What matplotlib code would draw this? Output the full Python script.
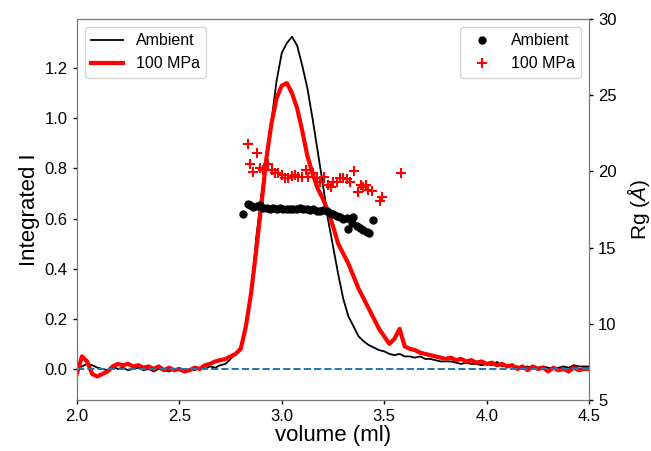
import numpy as np
import matplotlib.pyplot as plt

plt.rcParams['font.family'] = ['Liberation Sans', 'DejaVu Sans']
plt.rcParams['mathtext.fontset'] = 'custom'
plt.rcParams['mathtext.it'] = 'Liberation Sans:italic'
plt.rcParams['mathtext.rm'] = 'Liberation Sans'

# elution volume grid (ml)
vol = np.linspace(2.0, 4.5, 101)

# integrated intensity, ambient pressure
int_ambient = [
    0.00, 0.01, 0.02, 0.015, 0.005, 0.00, -0.005, 0.01, 0.00, 0.005,
    -0.005, 0.00, 0.005, -0.005, 0.00, -0.01, 0.00, -0.005, -0.01, 0.00,
    -0.005, -0.01, 0.00, -0.005, 0.005, 0.00, 0.01, 0.005, 0.015, 0.02,
    0.04, 0.06, 0.09, 0.17, 0.30, 0.52, 0.69, 0.84, 0.99, 1.15,
    1.26, 1.30, 1.325, 1.29, 1.21, 1.12, 1.00, 0.87, 0.74, 0.60,
    0.49, 0.38, 0.28, 0.21, 0.17, 0.13, 0.11, 0.095, 0.085, 0.075,
    0.07, 0.06, 0.055, 0.06, 0.05, 0.05, 0.045, 0.05, 0.04, 0.04,
    0.035, 0.03, 0.03, 0.03, 0.025, 0.02, 0.025, 0.02, 0.02, 0.015,
    0.02, 0.015, 0.028, 0.01, 0.015, 0.01, 0.01, 0.005, 0.01, 0.005,
    0.005, 0.01, 0.005, 0.00, 0.005, 0.01, 0.005, 0.015, 0.01, 0.01,
    0.01,
]

# integrated intensity, 100 MPa
int_100 = [
    -0.02, 0.05, 0.03, -0.02, -0.03, -0.02, -0.01, 0.01, 0.02, 0.015,
    0.02, 0.01, 0.015, 0.005, 0.01, 0.00, 0.01, -0.005, 0.005, -0.005,
    0.00, -0.01, -0.005, 0.005, 0.00, 0.015, 0.02, 0.03, 0.035, 0.04,
    0.05, 0.06, 0.08, 0.17, 0.30, 0.47, 0.65, 0.84, 0.98, 1.08,
    1.13, 1.14, 1.10, 1.04, 0.95, 0.85, 0.78, 0.72, 0.68, 0.63,
    0.57, 0.50, 0.46, 0.42, 0.37, 0.32, 0.28, 0.24, 0.20, 0.16,
    0.13, 0.10, 0.12, 0.16, 0.09, 0.08, 0.075, 0.065, 0.06, 0.055,
    0.05, 0.045, 0.04, 0.045, 0.035, 0.04, 0.03, 0.035, 0.025, 0.03,
    0.02, 0.025, 0.015, 0.02, 0.01, 0.015, 0.00, 0.01, -0.005, 0.01,
    0.00, 0.005, -0.01, 0.005, -0.005, 0.00, -0.01, 0.005, -0.005, 0.00,
    0.00,
]

# radius of gyration, ambient
rg_vol_ambient = [
    2.812, 2.833, 2.845, 2.861, 2.877, 2.894, 2.910, 2.926, 2.942, 2.959,
    2.975, 2.991, 3.007, 3.024, 3.040, 3.056, 3.072, 3.089, 3.105, 3.121,
    3.138, 3.154, 3.170, 3.187, 3.203, 3.219, 3.235, 3.251, 3.268, 3.284,
    3.300, 3.317, 3.325, 3.341, 3.350, 3.366, 3.382, 3.398, 3.415, 3.428,
    3.443,
]
rg_ambient = [
    17.19, 17.86, 17.80, 17.64, 17.73, 17.80, 17.58, 17.58, 17.51, 17.58,
    17.55, 17.60, 17.50, 17.55, 17.55, 17.50, 17.55, 17.58, 17.50, 17.50,
    17.46, 17.50, 17.42, 17.42, 17.46, 17.42, 17.24, 17.19, 17.10, 17.03,
    16.86, 16.92, 16.22, 16.64, 17.00, 16.42, 16.27, 16.16, 16.05, 15.99,
    16.81,
]

# radius of gyration, 100 MPa
rg_vol_100 = [
    2.833, 2.877, 2.845, 2.861, 2.894, 2.910, 2.934, 2.950, 2.967, 2.983,
    3.000, 3.016, 3.032, 3.048, 3.065, 3.081, 3.097, 3.118, 3.130, 3.154,
    3.170, 3.187, 3.206, 3.227, 3.240, 3.251, 3.268, 3.284, 3.300, 3.317,
    3.333, 3.354, 3.370, 3.385, 3.398, 3.410, 3.423, 3.440, 3.480, 3.490,
    3.580,
]
rg_100 = [
    21.80, 21.23, 20.49, 19.98, 20.20, 20.09, 20.46, 20.09, 19.91, 19.87,
    19.76, 19.54, 19.54, 19.70, 19.76, 19.61, 19.66, 20.09, 19.66, 19.87,
    19.54, 19.32, 19.66, 19.10, 19.00, 19.32, 19.32, 19.54, 19.54, 19.48,
    19.32, 20.03, 18.67, 19.10, 19.00, 19.10, 18.78, 18.73, 18.08, 18.30,
    19.91,
]

fig = plt.figure(figsize=(6.51, 4.51), dpi=100)
ax = fig.add_axes([0.118, 0.113, 0.787, 0.845])

ax.plot(vol, int_ambient, color='black', lw=1.3, label='Ambient')
ax.plot(vol, int_100, color='red', lw=3, label='100 MPa')
ax.axhline(0, color='#1f77b4', ls='--', lw=1.4)
ax.set_xlim(2.0, 4.5)
ax.set_ylim(-0.124, 1.396)
ax.set_xticks([2.0, 2.5, 3.0, 3.5, 4.0, 4.5])
ax.set_yticks([0.0, 0.2, 0.4, 0.6, 0.8, 1.0, 1.2])
ax.set_xlabel('volume (ml)', fontsize=16, labelpad=1)
ax.set_ylabel('Integrated I', fontsize=16, labelpad=3)
ax.legend(loc='upper left', fontsize=11.5)

ax2 = ax.twinx()
ax2.plot(rg_vol_ambient, rg_ambient, 'o', color='black', ms=5, label='Ambient')
ax2.plot(rg_vol_100, rg_100, '+', color='red', ms=7, mew=1.5, label='100 MPa')
ax2.set_ylim(5, 30)
ax2.set_yticks([5, 10, 15, 20, 25, 30])
ax2.set_ylabel(r'Rg ($Å$)', fontsize=15, labelpad=6)
ax2.legend(loc='upper right', fontsize=11.5, numpoints=1)

for a in (ax, ax2):
    a.tick_params(labelsize=12, length=3, width=1, color='black')
    for s in a.spines.values():
        s.set_color('#777777')

fig.savefig('out.png', dpi=100)
